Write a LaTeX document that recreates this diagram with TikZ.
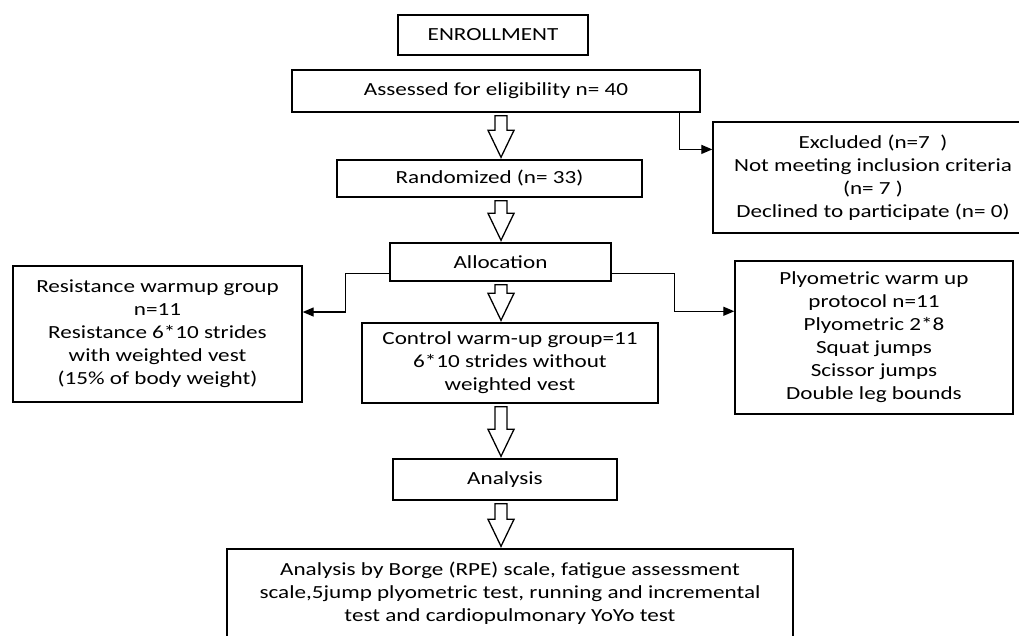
\documentclass[tikz,border=0pt]{standalone}
\usepackage{fontspec}
\setmainfont{Carlito}[FakeStretch=1.25]
\usepackage{tikz}
\usetikzlibrary{arrows.meta,calc}

\newcommand{\hollowarrow}[2]{%
    \draw[hollow] let \p1=(#1.south -| spine), \p2=(#2.north -| spine) in
        (\x1-6pt,\y1-3pt) -- (\x1+6pt,\y1-3pt) -- (\x1+6pt,\y2+29pt)
        -- (\x1+13pt,\y2+29pt) -- (\x1,\y2+2pt) -- (\x1-13pt,\y2+29pt)
        -- (\x1-6pt,\y2+29pt) -- cycle;}

\begin{document}
\begin{tikzpicture}[x=1pt,y=-1pt,
    box/.style={draw, line width=1.4pt, align=center, inner sep=0pt, font=\fontsize{18.5}{23}\selectfont},
    link/.style={line width=1.3pt, -{Triangle[length=11pt,width=9pt]}},
    hollow/.style={draw, line width=1.3pt, fill=white, line join=miter}]
    \useasboundingbox (0,0) rectangle (1019,635);
    \clip (0,0) rectangle (1019,635);
    \coordinate (spine) at (501,0);
    \node[box, minimum width=190pt, minimum height=40pt] (enroll) at (493,35) {ENROLLMENT};
    \node[box, minimum width=408pt, minimum height=42pt] (assess) at (496,91) {Assessed for eligibility n= 40};
    \node[box, minimum width=320pt, minimum height=111pt] (excl) at (873,177.5) {Excluded (n=7\ \ )\\Not meeting inclusion criteria\\(n= 7 )\\Declined to participate (n= 0)};
    \node[box, minimum width=305pt, minimum height=37pt] (rand) at (489.5,178.5) {Randomized (n= 33)};
    \node[box, minimum width=221pt, minimum height=38pt] (alloc) at (500.5,262) {Allocation};
    \node[box, minimum width=289pt, minimum height=136pt] (resist) at (157.5,334) {Resistance warmup group\\n=11\\Resistance 6*10 strides\\with weighted vest\\(15\% of body weight)};
    \node[box, minimum width=296pt, minimum height=80pt] (control) at (510,363) {Control warm-up group=11\\6*10 strides without\\weighted vest};
    \node[box, minimum width=278pt, minimum height=153pt] (plyo) at (874,337.5) {Plyometric warm up\\protocol n=11\\Plyometric 2*8\\Squat jumps\\Scissor jumps\\Double leg bounds};
    \node[box, minimum width=224pt, minimum height=41pt] (analysis) at (505,479.5) {Analysis};
    \node[box, minimum width=566pt, minimum height=88pt] (final) at (510,593) {Analysis by Borge (RPE) scale, fatigue assessment\\scale,5jump plyometric test, running and incremental\\test and cardiopulmonary YoYo test};
    \draw[link] ([xshift=-21pt]assess.south east) |- ($(excl.north west)!0.25!(excl.south west)$);
    \draw[link] ($(alloc.north west)!0.8!(alloc.south west)$) -- ++(-44,0) |- ($(resist.north east)!0.34!(resist.south east)$);
    \draw[link] ($(alloc.north east)!0.8!(alloc.south east)$) -- ++(63,0) |- ($(plyo.north west)!0.33!(plyo.south west)$);
    \hollowarrow{assess}{rand}
    \hollowarrow{rand}{alloc}
    \hollowarrow{alloc}{control}
    \hollowarrow{control}{analysis}
    \hollowarrow{analysis}{final}
\end{tikzpicture}
\end{document}
